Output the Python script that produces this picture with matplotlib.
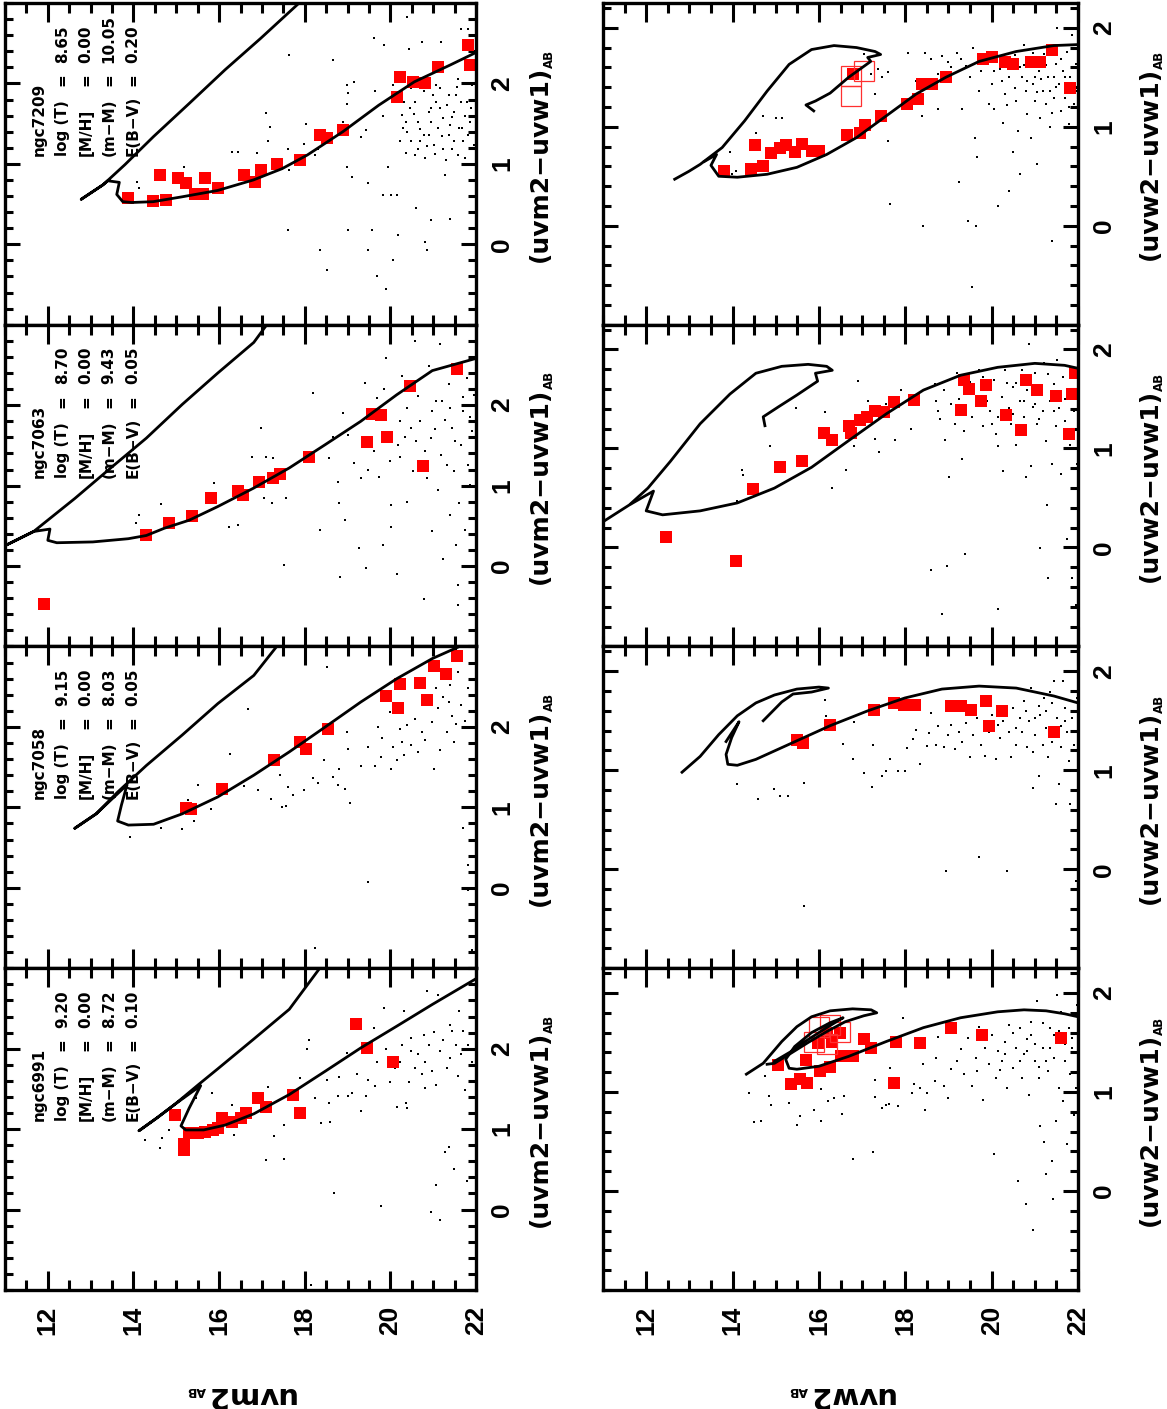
import numpy as np
import matplotlib.pyplot as plt
from matplotlib.ticker import MultipleLocator, FixedLocator

plt.rcParams['font.family'] = ['Liberation Sans', 'DejaVu Sans']
plt.rcParams['font.weight'] = 'bold'

# ---------------- data: (magnitude, colour) pairs ----------------
# isochrones (uvm2 panels, left column)
iso_7209_m2 = [(22.02, 2.39), (21.40, 2.23), (20.56, 2.02), (19.73, 1.73), (18.89, 1.40), (18.06, 1.11),
               (17.47, 0.94), (16.80, 0.80), (15.97, 0.67), (15.13, 0.59), (14.46, 0.53), (13.96, 0.52),
               (13.75, 0.53), (13.61, 0.62), (13.67, 0.77), (13.40, 0.79), (13.29, 0.74), (12.78, 0.56),
               (13.29, 0.74), (13.80, 0.99), (14.47, 1.34), (15.30, 1.75), (16.14, 2.17), (16.97, 2.56),
               (17.89, 3.01)]
iso_7063_m2 = [(21.99, 2.58), (20.98, 2.43), (20.15, 2.13), (19.31, 1.80), (18.48, 1.51), (17.64, 1.22),
               (16.81, 0.97), (15.97, 0.74), (15.30, 0.57), (14.72, 0.47), (14.30, 0.38), (13.88, 0.34),
               (13.05, 0.30), (12.21, 0.29), (12.00, 0.32), (12.05, 0.46), (11.67, 0.43), (10.95, 0.24),
               (11.67, 0.43), (12.63, 0.84), (13.47, 1.22), (14.30, 1.59), (15.14, 2.01), (15.97, 2.40),
               (16.81, 2.78), (17.10, 2.99)]
iso_7058_m2 = [(21.57, 2.99), (20.98, 2.85), (20.15, 2.60), (19.31, 2.31), (18.48, 2.00), (17.64, 1.69),
               (16.81, 1.40), (15.97, 1.13), (15.14, 0.92), (14.47, 0.79), (13.88, 0.78), (13.63, 0.83),
               (13.72, 1.03), (13.85, 1.28), (13.13, 0.92), (12.63, 0.74), (13.13, 0.92), (13.63, 1.19),
               (14.30, 1.52), (15.14, 1.90), (15.97, 2.29), (16.81, 2.64), (17.33, 2.99)]
iso_6991_m2 = [(22.00, 2.87), (20.98, 2.55), (20.15, 2.28), (19.31, 2.01), (18.48, 1.72), (17.64, 1.43),
               (16.81, 1.19), (16.14, 1.05), (15.64, 0.99), (15.22, 0.99), (15.11, 1.04), (15.30, 1.26),
               (15.57, 1.54), (14.97, 1.31), (14.55, 1.14), (14.13, 0.98), (14.55, 1.14), (14.97, 1.31),
               (15.51, 1.55), (15.97, 1.75), (16.81, 2.12), (17.64, 2.49), (18.35, 3.00)]

# isochrones (uvw2 panels, right column): upper loop and main sequence
iso_7209_w2_a = [(12.66, 0.47), (12.99, 0.55), (13.25, 0.62), (13.76, 0.79), (14.28, 1.06), (14.80, 1.36),
                 (15.31, 1.63), (15.83, 1.78), (16.35, 1.82), (16.87, 1.80), (17.30, 1.76), (17.43, 1.73),
                 (17.13, 1.70), (17.20, 1.66), (16.69, 1.50), (16.26, 1.34), (15.92, 1.26), (15.70, 1.22),
                 (15.88, 1.16)]
iso_7209_w2_b = [(22.00, 1.83), (21.44, 1.82), (20.57, 1.76), (19.71, 1.66), (18.94, 1.50), (18.25, 1.33),
                 (17.56, 1.11), (16.87, 0.89), (16.18, 0.72), (15.49, 0.59), (14.80, 0.52), (14.11, 0.49),
                 (13.68, 0.50), (13.50, 0.61), (13.63, 0.72), (13.35, 0.65)]
iso_7063_w2_a = [(11.00, 0.26), (11.61, 0.43), (12.04, 0.60), (12.56, 0.87), (13.25, 1.25), (13.94, 1.55),
                 (14.54, 1.76), (15.14, 1.83), (15.75, 1.85), (16.18, 1.83), (16.31, 1.79), (15.92, 1.76),
                 (15.97, 1.68), (15.49, 1.54), (15.06, 1.42), (14.71, 1.32), (14.75, 1.23)]
iso_7063_w2_b = [(22.00, 1.81), (21.69, 1.84), (21.00, 1.86), (20.14, 1.82), (19.28, 1.74), (18.42, 1.59),
                 (17.56, 1.35), (16.69, 1.08), (15.83, 0.81), (14.97, 0.60), (14.11, 0.45), (13.25, 0.37),
                 (12.38, 0.33), (12.00, 0.37), (12.17, 0.57), (11.65, 0.44)]
iso_7058_w2_a = [(12.83, 0.98), (13.25, 1.14), (13.68, 1.36), (14.11, 1.55), (14.54, 1.68), (14.97, 1.76),
                 (15.49, 1.82), (16.00, 1.84), (16.22, 1.83), (15.83, 1.79), (15.40, 1.77), (15.14, 1.69),
                 (14.71, 1.50)]
iso_7058_w2_b = [(22.00, 1.68), (21.44, 1.75), (20.57, 1.83), (19.71, 1.85), (18.85, 1.82), (17.99, 1.73),
                 (17.13, 1.60), (16.26, 1.45), (15.40, 1.28), (14.54, 1.11), (14.11, 1.05), (13.89, 1.06),
                 (13.85, 1.16), (13.98, 1.33), (14.15, 1.49), (13.85, 1.29)]
iso_6991_w2_a = [(14.32, 1.18), (14.71, 1.29), (15.14, 1.51), (15.49, 1.66), (15.83, 1.76), (16.26, 1.82),
                 (16.78, 1.84), (17.21, 1.83), (17.34, 1.80), (17.04, 1.77), (16.61, 1.71), (16.18, 1.61),
                 (15.75, 1.50), (15.31, 1.38), (14.97, 1.29), (14.80, 1.28)]
iso_6991_w2_b = [(22.00, 1.76), (21.69, 1.79), (21.26, 1.82), (20.75, 1.83), (20.14, 1.81), (19.28, 1.75),
                 (18.42, 1.65), (17.56, 1.51), (16.69, 1.36), (16.00, 1.26), (15.49, 1.23), (15.31, 1.24),
                 (15.23, 1.33), (15.44, 1.46), (15.83, 1.60), (16.26, 1.70), (16.56, 1.75), (16.18, 1.65),
                 (15.75, 1.53), (15.36, 1.41), (14.97, 1.31)]

# cluster members (red squares)
sq_7209_m2 = [(13.88, 0.57), (14.45, 0.54), (14.76, 0.55), (14.61, 0.86), (15.03, 0.83), (15.22, 0.76),
              (15.43, 0.63), (15.68, 0.82), (15.63, 0.63), (15.97, 0.70), (16.59, 0.86), (16.85, 0.78),
              (16.97, 0.92), (17.35, 1.00), (17.89, 1.05), (18.35, 1.36), (18.52, 1.32), (18.89, 1.42),
              (20.15, 1.83), (20.23, 2.08), (20.52, 2.02), (20.81, 2.00), (21.11, 2.21), (21.82, 2.48),
              (21.86, 2.23)]
sq_7063_m2 = [(11.92, -0.47), (14.30, 0.39), (14.84, 0.54), (15.37, 0.62), (15.81, 0.84), (16.43, 0.93),
              (16.56, 0.88), (16.93, 1.05), (17.27, 1.09), (17.43, 1.15), (18.09, 1.35), (19.46, 1.54),
              (19.56, 1.89), (19.77, 1.88), (19.92, 1.61), (20.47, 2.24), (20.76, 1.24), (21.55, 2.45)]
sq_7058_m2 = [(15.22, 0.99), (15.35, 0.98), (16.06, 1.23), (17.28, 1.59), (17.89, 1.81), (18.04, 1.72),
              (18.55, 1.98), (19.90, 2.39), (20.17, 2.24), (20.22, 2.54), (20.69, 2.55), (20.86, 2.33),
              (21.03, 2.76), (21.30, 2.66), (21.55, 2.88)]
sq_6991_m2 = [(14.97, 1.18), (15.18, 0.82), (15.18, 0.74), (15.30, 0.95), (15.51, 0.95), (15.68, 0.97),
              (15.85, 0.99), (15.97, 1.02), (16.07, 1.14), (16.30, 1.09), (16.51, 1.14), (16.64, 1.20),
              (16.91, 1.39), (17.10, 1.27), (17.73, 1.43), (17.88, 1.20), (19.19, 2.31), (19.46, 2.01),
              (20.05, 1.83)]
sq_7209_w2 = [(13.81, 0.55), (14.43, 0.57), (14.71, 0.60), (14.52, 0.82), (14.88, 0.73), (15.10, 0.79),
              (15.23, 0.82), (15.44, 0.74), (15.62, 0.83), (15.83, 0.76), (16.00, 0.76), (16.65, 0.92),
              (16.95, 0.94), (17.06, 1.02), (17.44, 1.11), (18.03, 1.23), (18.29, 1.28), (18.38, 1.43),
              (18.63, 1.43), (18.95, 1.50), (19.80, 1.68), (20.01, 1.70), (20.31, 1.65), (20.49, 1.63),
              (20.92, 1.65), (21.13, 1.65), (21.39, 1.78), (21.82, 1.39), (16.78, 1.53)]
sq_7063_w2 = [(12.47, 0.11), (14.09, -0.14), (14.48, 0.59), (15.10, 0.81), (15.60, 0.87), (16.12, 1.16),
              (16.31, 1.09), (16.69, 1.23), (16.74, 1.16), (16.94, 1.29), (17.11, 1.32), (17.30, 1.38),
              (17.51, 1.37), (17.73, 1.47), (18.20, 1.49), (19.30, 1.39), (19.35, 1.69), (19.47, 1.60),
              (19.75, 1.48), (19.87, 1.64), (20.33, 1.34), (20.69, 1.19), (20.79, 1.69), (21.05, 1.59),
              (21.50, 1.53), (21.80, 1.15), (21.87, 1.55), (21.94, 1.76)]
sq_7058_w2 = [(15.49, 1.31), (15.63, 1.28), (16.25, 1.46), (17.27, 1.61), (17.73, 1.68), (17.97, 1.66),
              (18.22, 1.66), (19.07, 1.65), (19.28, 1.65), (19.52, 1.61), (19.87, 1.70), (19.95, 1.45),
              (20.23, 1.60), (21.44, 1.39)]
sq_6991_w2 = [(15.06, 1.27), (15.36, 1.08), (15.56, 1.13), (15.73, 1.09), (15.70, 1.32), (15.99, 1.50),
              (16.02, 1.21), (16.18, 1.60), (16.26, 1.25), (16.31, 1.51), (16.48, 1.60), (16.52, 1.36),
              (16.78, 1.36), (17.04, 1.54), (17.21, 1.44), (17.73, 1.09), (17.79, 1.51), (18.33, 1.49),
              (19.07, 1.65), (19.78, 1.58), (21.61, 1.55)]
# open squares
open_7209_w2 = [(16.74, 1.51), (17.04, 1.56), (16.74, 1.31)]
open_6991_w2 = [(16.00, 1.66), (16.26, 1.68), (15.88, 1.51), (16.48, 1.61), (16.18, 1.48)]

# field stars (small black dots)
field_7209_m2 = [(14.09, 0.78), (14.12, 0.70), (15.18, 0.96), (16.43, 1.15), (16.31, 1.15), (16.89, 1.13),
                 (17.14, 1.28), (17.10, 1.63), (17.18, 1.46), (17.64, 2.35), (17.60, 1.19), (17.64, 0.92),
                 (17.60, 0.18), (18.02, 1.50), (17.98, 1.25), (18.23, 1.11), (18.31, 1.19), (18.35, -0.07),
                 (18.52, -0.32), (18.65, 2.29), (18.98, 0.96), (19.11, 0.84), (19.00, 0.18), (18.90, 1.52),
                 (18.98, 1.98), (19.02, 1.88), (18.98, 1.75), (19.15, 2.02), (19.31, 1.34), (19.44, 1.42),
                 (19.48, 0.76), (19.48, -0.07), (19.56, 0.18), (19.65, 1.90), (19.61, 2.56), (19.69, -0.40),
                 (19.82, 1.59), (19.82, 0.61), (19.86, 2.48), (19.90, -0.55), (19.94, 0.96), (20.02, 0.61),
                 (20.07, -0.19), (20.15, 0.61), (20.19, 0.12), (20.27, 1.61), (20.32, 1.77), (20.36, 1.52),
                 (20.40, 2.82), (20.40, 1.40), (20.44, 2.43), (20.48, 1.28), (20.57, 1.11), (20.61, 0.45),
                 (20.65, 1.52), (20.73, 2.52), (20.78, 1.36), (20.82, 0.03), (20.86, -0.07), (20.90, 1.65),
                 (20.94, 0.30), (20.99, 1.86), (21.03, 1.23), (21.07, 1.77), (21.11, 1.44), (21.15, 1.94),
                 (21.19, 2.52), (21.24, 1.57), (21.28, 0.86), (21.32, 1.73), (21.36, 1.36), (21.40, 0.32),
                 (21.44, 1.19), (21.49, 1.65), (21.53, 1.86), (21.57, 2.06), (21.61, 1.44), (21.65, 2.68),
                 (21.70, 1.28), (21.74, 1.07), (21.78, 1.77), (21.82, 2.68), (21.86, 1.52), (21.90, 1.98),
                 (21.95, 1.23), (21.99, 1.65), (20.57, 1.77), (20.69, 1.28), (20.90, 1.36), (21.15, 1.69),
                 (21.40, 1.48), (20.48, 1.94), (20.78, 1.90), (21.49, 1.28), (21.24, 1.19), (20.94, 1.52),
                 (21.65, 1.77), (21.82, 1.36), (20.65, 1.19), (21.07, 1.98), (20.23, 1.28), (20.36, 1.13),
                 (21.36, 1.86), (21.57, 1.11), (20.82, 1.07), (20.07, 1.98), (20.30, 1.45), (20.55, 1.62),
                 (20.70, 1.43), (20.95, 1.70), (21.20, 1.35), (21.45, 1.58), (21.68, 1.45), (21.88, 1.70),
                 (20.85, 1.22), (21.05, 1.12), (21.30, 1.05), (20.45, 1.70), (21.55, 1.95), (21.75, 1.60)]
field_7063_m2 = [(14.13, 0.63), (14.05, 0.53), (14.64, 0.77), (15.89, 1.03), (16.24, 0.49), (16.43, 0.51),
                 (16.77, 1.36), (16.98, 1.72), (17.10, 1.36), (17.27, 1.34), (17.06, 0.84), (17.23, 0.78),
                 (17.56, 0.84), (17.52, 0.01), (18.19, 2.15), (18.35, 0.45), (18.56, 1.34), (18.65, 1.61),
                 (18.77, 1.05), (18.81, 0.78), (18.83, -0.14), (18.90, 1.90), (18.94, 0.57), (19.02, 1.63),
                 (19.15, 1.28), (19.27, 0.22), (19.31, 1.09), (19.40, 2.28), (19.44, -0.03), (19.48, 1.20),
                 (19.61, 1.43), (19.69, 2.09), (19.73, 1.11), (19.82, 0.26), (19.86, 2.20), (19.90, 2.59),
                 (20.02, 0.76), (20.02, 0.49), (20.15, -0.10), (20.19, 1.51), (20.23, 1.36), (20.28, 2.36),
                 (20.40, 1.97), (20.40, 0.80), (20.48, 1.72), (20.53, 1.18), (20.57, 2.80), (20.65, 2.11),
                 (20.69, 1.80), (20.78, -0.41), (20.86, 1.09), (20.90, 2.49), (20.94, 1.59), (20.98, 0.43),
                 (21.07, 2.05), (21.11, 0.95), (21.15, 2.76), (21.19, 1.38), (21.24, 0.09), (21.28, 1.82),
                 (21.32, 1.26), (21.36, 2.26), (21.40, 0.63), (21.44, 1.72), (21.49, 1.18), (21.53, 0.26),
                 (21.57, -0.49), (21.61, 0.78), (21.65, 1.51), (21.70, 1.93), (21.74, 0.45), (21.78, 2.34),
                 (21.82, 1.26), (21.86, 1.01), (21.90, 1.68), (21.95, 2.13), (21.57, -0.24), (19.48, 1.93),
                 (20.23, 1.80), (20.82, 1.43), (21.40, 1.97), (20.98, 1.93), (19.98, 1.30), (20.60, 1.55),
                 (21.05, 1.70), (21.50, 1.55), (21.70, 2.10), (21.20, 2.05), (20.35, 1.60), (21.85, 1.85)]
field_7058_m2 = [(13.93, 0.63), (14.64, 0.74), (15.14, 0.73), (15.41, 0.83), (15.28, 1.09), (15.51, 1.28),
                 (15.80, 0.98), (16.26, 1.66), (16.58, 1.27), (16.68, 2.22), (16.91, 1.21), (17.21, 1.11),
                 (17.43, 1.40), (17.46, 1.01), (17.56, 1.02), (17.60, 1.25), (17.73, 1.15), (17.98, 1.21),
                 (18.19, 1.37), (18.23, -0.75), (18.31, 1.30), (18.46, 1.59), (18.52, 2.75), (18.65, 1.38),
                 (18.77, 1.28), (18.81, 1.48), (18.94, 1.23), (18.98, 1.94), (19.02, 1.73), (19.05, 1.05),
                 (19.31, 1.52), (19.48, 1.75), (19.48, 0.07), (19.65, 1.52), (19.71, 2.00), (19.77, 1.63),
                 (19.81, 1.86), (19.98, 2.19), (20.02, 1.48), (20.07, 1.75), (20.15, 1.59), (20.23, 1.98),
                 (20.27, 1.81), (20.32, 1.65), (20.40, 2.02), (20.48, 1.77), (20.57, 2.10), (20.65, 1.69),
                 (20.73, 1.94), (20.78, 2.60), (20.82, 1.84), (20.98, 2.06), (21.03, 1.48), (21.07, 2.48),
                 (21.11, 2.23), (21.15, 1.71), (21.24, 2.37), (21.32, 1.94), (21.36, 2.31), (21.40, 2.52),
                 (21.44, 2.14), (21.49, 1.81), (21.53, 2.04), (21.57, 2.68), (21.65, 2.27), (21.70, 0.74),
                 (21.74, 2.08), (21.82, 2.48), (21.86, 2.19), (21.90, 2.39), (21.82, -0.03), (21.90, -0.77),
                 (21.82, 0.28)]
field_6991_m2 = [(14.26, 0.86), (14.66, 0.89), (14.63, 0.76), (14.84, 0.99), (15.47, 1.39), (15.83, 1.45),
                 (16.30, 1.30), (16.35, 0.93), (17.14, 1.52), (17.10, 0.62), (17.29, 0.92), (17.52, 1.05),
                 (17.52, 0.63), (17.89, 1.63), (18.06, 1.99), (18.10, 2.11), (18.14, -0.94), (18.23, 1.39),
                 (18.39, 1.07), (18.52, 1.61), (18.56, 1.32), (18.60, 1.09), (18.69, 0.20), (18.77, 1.41),
                 (18.81, 1.65), (18.98, 1.95), (19.02, 1.41), (19.11, 1.45), (19.23, 1.68), (19.31, 1.22),
                 (19.44, 1.41), (19.48, 1.61), (19.61, 2.26), (19.65, 1.53), (19.69, 1.84), (19.77, 0.05),
                 (19.86, 2.51), (19.90, 2.00), (19.98, 1.59), (20.11, 1.76), (20.15, 1.28), (20.23, 1.84),
                 (20.27, 2.05), (20.32, 2.47), (20.36, 1.32), (20.44, 1.59), (20.48, 1.97), (20.57, 1.76),
                 (20.65, 1.93), (20.73, 1.68), (20.78, 2.17), (20.82, 1.84), (20.86, 2.72), (20.90, 2.05),
                 (20.94, -0.03), (20.98, 1.72), (21.03, 2.21), (21.07, 1.55), (21.07, 0.30), (21.11, 2.67),
                 (21.15, -0.13), (21.15, 1.97), (21.24, 2.11), (21.28, 0.72), (21.32, 1.76), (21.36, 0.78),
                 (21.40, 1.88), (21.44, 2.22), (21.49, 0.51), (21.53, 2.04), (21.57, 1.66), (21.61, 2.47),
                 (21.65, 1.93), (21.70, 2.22), (21.74, 1.49), (21.78, 0.35), (21.82, 2.05), (21.86, 2.59),
                 (21.90, 1.84), (21.95, 2.80), (20.48, 2.13), (21.40, 2.30), (20.82, 1.51), (20.40, 1.26)]
field_7209_w2 = [(13.94, 0.74), (13.98, 0.52), (14.09, 0.55), (14.54, 0.94), (14.71, 1.11), (15.01, 1.09),
                 (15.14, 1.09), (17.04, 1.73), (17.21, 1.53), (17.38, 1.58), (17.47, 1.50), (17.30, 1.33),
                 (17.60, 1.55), (17.60, 0.86), (17.64, 0.22), (18.07, 1.75), (18.25, 1.46), (18.38, 1.11),
                 (18.42, 0.00), (18.46, 1.75), (18.59, 1.68), (18.76, 1.53), (18.76, 1.18), (18.85, 1.71),
                 (18.98, 1.65), (19.07, 1.60), (19.19, 1.75), (19.24, 0.44), (19.28, 1.68), (19.32, 1.18),
                 (19.41, 1.61), (19.45, 0.05), (19.50, 1.50), (19.54, -0.62), (19.58, 1.80), (19.61, 0.89),
                 (19.63, 0.00), (19.67, 0.69), (19.71, 1.36), (19.76, 1.56), (19.84, 1.66), (19.93, 1.23),
                 (20.01, 1.43), (20.06, 1.18), (20.14, 0.20), (20.19, 1.58), (20.23, 1.46), (20.27, 1.04),
                 (20.31, 1.33), (20.40, 0.35), (20.44, 1.60), (20.49, 0.74), (20.53, 1.39), (20.57, 1.26),
                 (20.62, 0.96), (20.66, 0.52), (20.70, 1.50), (20.75, 1.83), (20.79, 1.36), (20.83, 1.13),
                 (20.87, 1.66), (20.92, 0.89), (20.96, 1.43), (21.00, 1.26), (21.05, 0.62), (21.09, 1.56),
                 (21.13, 1.09), (21.18, 1.36), (21.22, 1.73), (21.26, 1.23), (21.31, 1.50), (21.35, 1.00),
                 (21.39, -0.15), (21.44, 1.29), (21.48, 1.63), (21.52, 2.00), (21.57, 1.43), (21.61, 1.16),
                 (21.65, 1.56), (21.70, 1.29), (21.74, 1.76), (21.78, 1.03), (21.82, 1.50), (21.87, 1.93),
                 (21.91, 1.23), (21.95, 1.63), (21.97, 1.36), (21.00, 1.50), (20.66, 1.60), (21.35, 1.36),
                 (20.40, 1.50), (20.83, 1.46), (21.44, 1.50), (20.06, 1.56), (21.70, 1.50), (20.20, 1.70),
                 (20.55, 1.72), (20.95, 1.75), (21.25, 1.62), (21.60, 1.68), (21.85, 1.60), (20.75, 1.62),
                 (21.15, 1.48), (21.50, 1.40), (21.80, 1.20), (20.35, 1.22), (21.05, 1.35), (21.40, 1.14)]
field_7063_w2 = [(14.11, 0.47), (14.22, 0.78), (14.24, 0.73), (14.86, 1.03), (15.47, 1.41), (16.15, 1.37),
                 (16.31, 0.60), (16.63, 0.78), (16.82, 1.03), (16.91, 1.68), (17.13, 1.48), (17.30, 1.10),
                 (17.40, 0.96), (17.56, 1.45), (17.77, 1.09), (17.90, 1.59), (18.14, 1.20), (18.59, -0.23),
                 (18.68, 1.65), (18.72, 1.48), (18.76, 1.38), (18.81, 1.30), (18.85, -0.67), (18.89, 1.59),
                 (18.92, 1.09), (18.96, -0.19), (19.02, 0.71), (19.07, 1.45), (19.15, 1.25), (19.19, 1.76),
                 (19.24, 1.50), (19.32, 0.89), (19.37, 1.18), (19.38, -0.07), (19.50, 1.67), (19.54, 1.32),
                 (19.63, 1.43), (19.71, 1.79), (19.80, 1.23), (19.88, 1.59), (19.97, 1.38), (20.06, 1.69),
                 (20.10, 1.15), (20.14, 1.03), (20.14, -0.62), (20.23, 1.52), (20.27, 0.77), (20.31, 1.79),
                 (20.40, 1.41), (20.44, 1.25), (20.49, 1.62), (20.57, 1.04), (20.66, 1.48), (20.70, 1.79),
                 (20.75, 1.32), (20.79, 0.71), (20.83, 1.59), (20.87, 2.06), (20.92, 0.82), (20.96, 1.42),
                 (21.00, 1.76), (21.05, 1.25), (21.09, 1.55), (21.13, -0.01), (21.18, 1.38), (21.22, 1.86),
                 (21.26, 1.08), (21.28, 0.43), (21.31, -0.31), (21.35, 1.48), (21.39, 0.84), (21.44, 1.65),
                 (21.48, 1.23), (21.52, 1.89), (21.57, 1.41), (21.61, 0.74), (21.65, 1.72), (21.70, 1.28),
                 (21.74, 0.09), (21.78, 1.59), (21.82, 1.04), (21.87, -0.31), (21.91, 1.38), (21.95, -0.58),
                 (21.97, 0.84), (20.57, 1.66), (21.00, 1.45), (21.44, 1.38), (20.14, 1.32), (19.80, 1.72),
                 (20.75, 1.48), (19.40, 1.55), (19.90, 1.48), (20.35, 1.66), (20.90, 1.68), (21.30, 1.75),
                 (21.70, 1.50), (20.50, 1.35), (21.10, 1.30), (19.60, 1.60), (20.00, 1.25)]
field_7058_w2 = [(14.11, 0.86), (14.58, 0.71), (14.95, 0.81), (15.10, 0.74), (15.29, 0.74), (15.66, 0.87),
                 (15.66, -0.37), (16.13, 1.71), (16.16, 1.55), (16.55, 1.27), (16.82, 1.49), (16.78, 1.11),
                 (17.04, 0.97), (17.25, 1.26), (17.23, 0.83), (17.47, 0.94), (17.56, 0.99), (17.64, 1.11),
                 (17.82, 0.99), (17.99, 0.99), (18.03, 1.22), (18.18, 1.32), (18.25, 1.41), (18.33, 1.06),
                 (18.51, 1.24), (18.55, 1.38), (18.59, 1.58), (18.72, 1.26), (18.76, 1.45), (18.89, 1.23),
                 (18.94, -0.02), (18.98, 1.36), (19.07, 1.46), (19.15, 1.21), (19.24, 1.39), (19.32, 1.29),
                 (19.41, 1.48), (19.50, 1.13), (19.58, 1.36), (19.67, 1.53), (19.71, 0.12), (19.75, 1.26),
                 (19.84, 1.14), (19.93, 1.39), (20.01, 1.56), (20.10, 1.11), (20.19, 1.33), (20.27, 1.50),
                 (20.36, -0.02), (20.40, 1.39), (20.44, 1.13), (20.49, 1.63), (20.57, 1.26), (20.66, 1.53),
                 (20.70, 1.39), (20.75, 1.70), (20.83, 1.23), (20.87, 1.50), (20.92, 1.83), (20.96, 0.82),
                 (21.00, 1.36), (21.09, 0.94), (21.13, 1.56), (21.18, 1.26), (21.22, 1.73), (21.26, 1.43),
                 (21.31, 1.13), (21.35, 1.79), (21.39, 1.29), (21.44, 1.90), (21.48, 0.66), (21.52, 1.53),
                 (21.57, 0.86), (21.61, 1.23), (21.65, 1.90), (21.70, 1.63), (21.74, 1.39), (21.78, 1.09),
                 (21.82, 0.66), (21.87, 1.53), (21.91, 1.26), (21.95, -0.12), (21.97, 1.73), (21.00, 1.53),
                 (21.26, 1.60), (20.57, 1.43), (21.52, 1.36), (20.14, 1.46), (21.70, 1.50), (20.80, 1.60),
                 (21.10, 1.65), (21.40, 1.68), (21.85, 1.40), (20.35, 1.58), (21.60, 1.45), (20.95, 1.18)]
field_6991_w2 = [(14.37, 0.99), (14.50, 0.70), (14.67, 0.71), (14.75, 1.16), (14.84, 0.96), (14.88, 0.87),
                 (15.30, 0.89), (15.49, 0.67), (15.56, 0.76), (15.88, 0.82), (16.05, 1.03), (16.05, 0.71),
                 (16.22, 0.91), (16.35, 0.94), (16.54, 0.78), (16.59, 0.96), (16.78, 0.32), (17.25, 0.39),
                 (17.30, 1.12), (17.30, 0.95), (17.47, 0.84), (17.56, 0.87), (17.63, 0.88), (17.64, 1.24),
                 (17.82, 0.86), (17.94, 1.75), (18.16, 0.99), (18.20, 1.08), (18.33, 1.04), (18.42, 1.28),
                 (18.46, 0.82), (18.50, 0.99), (18.68, 1.11), (18.72, 1.34), (18.76, 1.56), (18.89, 1.06),
                 (18.98, 0.94), (19.07, 1.23), (19.19, 1.31), (19.28, 1.43), (19.37, 1.18), (19.45, 1.55),
                 (19.54, 1.06), (19.63, 1.34), (19.67, 1.21), (19.71, 1.66), (19.80, 0.92), (19.84, 1.44),
                 (19.93, 1.28), (20.01, 1.58), (20.06, 0.37), (20.10, 1.14), (20.14, 1.41), (20.23, 1.31),
                 (20.31, 1.51), (20.36, 1.04), (20.40, 1.68), (20.49, 1.24), (20.57, 1.44), (20.62, 0.10),
                 (20.66, 1.65), (20.70, 1.14), (20.75, 1.38), (20.79, -0.13), (20.83, 1.54), (20.87, 0.97),
                 (20.92, 1.71), (20.96, -0.39), (21.00, 1.31), (21.05, 1.92), (21.09, 1.14), (21.13, 0.66),
                 (21.18, 1.44), (21.22, 0.50), (21.26, 0.17), (21.31, 1.21), (21.35, 1.65), (21.39, 0.30),
                 (21.42, -0.08), (21.44, 1.34), (21.48, 0.71), (21.52, 1.98), (21.57, 1.04), (21.61, 1.81),
                 (21.65, 0.91), (21.70, 1.31), (21.74, 0.47), (21.78, 1.65), (21.82, 1.18), (21.87, 1.44),
                 (21.91, 0.77), (21.95, 1.04), (21.97, 1.88), (21.00, 1.48), (21.35, 1.44), (20.66, 1.31),
                 (21.70, 1.48), (21.26, 1.31), (20.31, 1.38), (21.44, 1.58), (20.83, 1.41), (20.50, 1.60),
                 (20.90, 1.58), (21.20, 1.70), (21.55, 1.62), (21.85, 1.55), (20.20, 1.22), (21.10, 1.25)]

# cluster parameters (labels shown in the uvm2 panels)
clusters = ['ngc7209', 'ngc7063', 'ngc7058', 'ngc6991']
log_t = ['8.65', '8.70', '9.15', '9.20']
metal = ['0.00', '0.00', '0.00', '0.00']
dist_mod = ['10.05', '9.43', '8.03', '8.72']
ebv = ['0.20', '0.05', '0.05', '0.10']

left_iso = [[iso_7209_m2], [iso_7063_m2], [iso_7058_m2], [iso_6991_m2]]
right_iso = [[iso_7209_w2_a, iso_7209_w2_b], [iso_7063_w2_a, iso_7063_w2_b],
             [iso_7058_w2_a, iso_7058_w2_b], [iso_6991_w2_a, iso_6991_w2_b]]
left_sq = [sq_7209_m2, sq_7063_m2, sq_7058_m2, sq_6991_m2]
right_sq = [sq_7209_w2, sq_7063_w2, sq_7058_w2, sq_6991_w2]
right_open = [open_7209_w2, [], [], open_6991_w2]
left_field = [field_7209_m2, field_7063_m2, field_7058_m2, field_6991_m2]
right_field = [field_7209_w2, field_7063_w2, field_7058_w2, field_6991_w2]

# ---------------- figure ----------------
W, H = 1167, 1409
fig = plt.figure(figsize=(W / 100, H / 100), dpi=100)
PH = 321.75  # panel height in px
BOLD = dict(family='DejaVu Sans', weight='bold')


def make_axes(col, row):
    x0, x1 = (5, 476) if col == 0 else (603, 1078)
    top = 3 + PH * row
    return fig.add_axes([x0 / W, 1 - (top + PH) / H, (x1 - x0) / W, PH / H])


def style(ax, ylim, bottom_labels):
    ax.set_xlim(11, 22)
    ax.set_ylim(*ylim)
    ax.xaxis.set_major_locator(FixedLocator([12, 14, 16, 18, 20, 22]))
    ax.xaxis.set_minor_locator(MultipleLocator(0.5))
    ax.yaxis.set_major_locator(FixedLocator([0, 1, 2]))
    ax.yaxis.set_minor_locator(MultipleLocator(0.2))
    ax.tick_params(which='both', direction='in', top=True, bottom=True, left=True, right=True,
                   width=2.2, labelleft=False, labelright=True, labelbottom=bottom_labels)
    ax.tick_params(axis='x', which='major', length=14, pad=11, labelsize=19, labelrotation=90)
    ax.tick_params(axis='x', which='minor', length=7)
    ax.tick_params(axis='y', which='major', length=11, pad=10, labelsize=19, labelrotation=90)
    ax.tick_params(axis='y', which='minor', length=6)
    for lbl in ax.get_yticklabels():
        lbl.set_va('center')
        lbl.set_fontweight('bold')
    for lbl in ax.get_xticklabels():
        lbl.set_fontweight('bold')
    for sp in ax.spines.values():
        sp.set_linewidth(2.4)


def draw(ax, paths, squares, field, open_sq):
    f = np.array(field)
    ax.plot(f[:, 0], f[:, 1], ls='none', marker='s', ms=1.8, mew=0, color='k', zorder=1)
    s = np.array(squares)
    ax.plot(s[:, 0], s[:, 1], ls='none', marker='s', ms=9.3, mew=0, color='#ff0000', zorder=2)
    if len(open_sq):
        o = np.array(open_sq)
        ax.plot(o[:, 0], o[:, 1], ls='none', marker='s', ms=14, mfc='none', mec='#ff3030',
                mew=0.9, zorder=2)
    for p in paths:
        p = np.array(p)
        ax.plot(p[:, 0], p[:, 1], color='k', lw=2.0, solid_joinstyle='round', zorder=3)


axes_left, axes_right = [], []
for row in range(4):
    axl = make_axes(0, row)
    style(axl, (-1, 3), row == 3)
    draw(axl, left_iso[row], left_sq[row], left_field[row], [])
    axes_left.append(axl)

    axr = make_axes(1, row)
    style(axr, (-1, 2.25), row == 3)
    draw(axr, right_iso[row], right_sq[row], right_field[row], right_open[row])
    axes_right.append(axr)

    # cluster info block, each line reading bottom to top
    rows_txt = [(clusters[row], None), ('log (T)', log_t[row]), ('[M/H]', metal[row]),
                ('(m\u2212M)', dist_mod[row]), ('E(B\u2212V)', ebv[row])]
    for i, (lab, val) in enumerate(rows_txt):
        xf = (11.79 + 0.548 * i - 11) / 11
        axl.text(xf, 0.525, lab, transform=axl.transAxes, rotation=90, ha='center', va='bottom',
                 fontsize=11, **BOLD, zorder=5)
        if val is not None:
            axl.text(xf, 0.7625, '=', transform=axl.transAxes, rotation=90, ha='center',
                     va='center', fontsize=11, **BOLD, zorder=5)
            axl.text(xf, 0.815, val, transform=axl.transAxes, rotation=90, ha='center',
                     va='bottom', fontsize=11, **BOLD, zorder=5)

fig.canvas.draw()
renderer = fig.canvas.get_renderer()


def colour_label(ax, xfrac, yfrac, main):
    t = ax.text(xfrac, yfrac, main, transform=ax.transAxes, rotation=90, ha='center',
                va='center', fontsize=18, **BOLD)
    bb = t.get_window_extent(renderer)
    fig.text((bb.x1 + 4) / W, (bb.y1 - 2) / H, 'AB', rotation=90, ha='right', va='bottom',
             fontsize=8.5, **BOLD)


def mag_label(xc, yc, main):
    t = fig.text(xc / W, yc / H, main, rotation=180, ha='center', va='center',
                 fontsize=21, **BOLD)
    bb = t.get_window_extent(renderer)
    fig.text((bb.x0 + 1) / W, (bb.y1 - 3) / H, 'AB', rotation=180, ha='right', va='top',
             fontsize=9, **BOLD)


for row in range(4):
    colour_label(axes_left[row], 1.136, 0.5, '(uvm2\u2212uvw1)')
    colour_label(axes_right[row], 1.152, 0.5, '(uvw2\u2212uvw1)')

mag_label(250, H - 1395, 'uvm2')
mag_label(850, H - 1395, 'uvw2')

fig.savefig('out.png', dpi=100)
